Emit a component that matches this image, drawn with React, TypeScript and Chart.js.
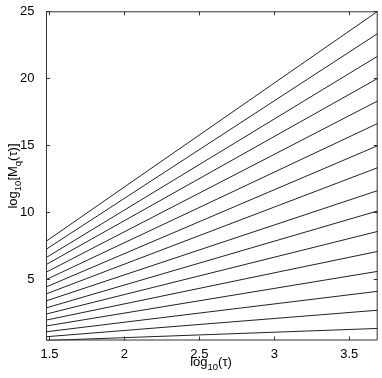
import React, { useEffect, useRef } from "react";
import { Chart, registerables } from "chart.js";

Chart.register(...registerables);

// log10(tau) range of every curve
const tauStart = 1.477;
const tauEnd = 3.69;

// log10[M_q(tau)] at the first and last tau, one entry per q (top curve first)
const startValues = [7.83, 7.23, 6.61, 6.09, 5.52, 4.97, 4.42, 3.9, 3.38, 2.86, 2.4, 1.95, 1.51, 1.08, 0.71, 0.43];
const endValues = [25.0, 23.34, 21.65, 19.99, 18.31, 16.63, 14.97, 13.33, 11.62, 10.1, 8.57, 7.08, 5.59, 4.1, 2.69, 1.33];

const xTicks = [1.5, 2, 2.5, 3, 3.5];
const yTicks = [5, 10, 15, 20, 25];

const yMin = 0.43;
const yMax = 25;

const FONT = "'Liberation Sans', Arial, Helvetica, sans-serif";

const framePlugin = {
  id: "matlabFrame",
  afterDraw(chart: any) {
    const ctx = chart.ctx;
    const { left, right, top, bottom } = chart.chartArea;
    const xs = chart.scales.x;
    const ys = chart.scales.y;
    ctx.save();
    ctx.strokeStyle = "#333";
    ctx.lineWidth = 1;
    ctx.beginPath();
    ctx.rect(left + 0.5, top + 0.5, right - left - 1, bottom - top - 1);
    ctx.stroke();
    const tl = 4;
    ctx.beginPath();
    xTicks.forEach((v) => {
      const px = Math.round(xs.getPixelForValue(v)) + 0.5;
      ctx.moveTo(px, bottom);
      ctx.lineTo(px, bottom - tl);
      ctx.moveTo(px, top);
      ctx.lineTo(px, top + tl);
    });
    yTicks.forEach((v) => {
      const py = Math.round(ys.getPixelForValue(v)) + 0.5;
      ctx.moveTo(left, py);
      ctx.lineTo(left + tl, py);
      ctx.moveTo(right, py);
      ctx.lineTo(right - tl, py);
    });
    ctx.stroke();

    // axis titles with subscripts
    const big = `13px ${FONT}`;
    const small = `9.5px ${FONT}`;
    const drawParts = (parts: { t: string; sub: boolean }[], cx: number, baseY: number) => {
      let total = 0;
      parts.forEach((p) => {
        ctx.font = p.sub ? small : big;
        total += ctx.measureText(p.t).width;
      });
      let x = cx - total / 2;
      ctx.textAlign = "left";
      ctx.textBaseline = "alphabetic";
      parts.forEach((p) => {
        ctx.font = p.sub ? small : big;
        ctx.fillText(p.t, x, baseY + (p.sub ? 4 : 0));
        x += ctx.measureText(p.t).width;
      });
    };
    ctx.fillStyle = "#000";
    drawParts(
      [
        { t: "log", sub: false },
        { t: "10", sub: true },
        { t: "(τ)", sub: false },
      ],
      211,
      366
    );
    ctx.save();
    ctx.translate(17, 176);
    ctx.rotate(-Math.PI / 2);
    drawParts(
      [
        { t: "log", sub: false },
        { t: "10", sub: true },
        { t: "[M", sub: false },
        { t: "q", sub: true },
        { t: "(τ)]", sub: false },
      ],
      0,
      0
    );
    ctx.restore();
    ctx.restore();
  },
};

export default function App() {
  const ref = useRef<HTMLCanvasElement | null>(null);
  useEffect(() => {
    if (!ref.current) return;
    const datasets = startValues.map((s, i) => ({
      label: `q${i}`,
      data: [
        { x: tauStart, y: s },
        { x: tauEnd, y: endValues[i] },
      ],
      borderColor: "#222",
      borderWidth: 1,
      pointRadius: 0,
      fill: false,
      tension: 0,
    }));
    const chart = new Chart(ref.current, {
      type: "line",
      data: { datasets },
      plugins: [framePlugin],
      options: {
        animation: false,
        responsive: false,
        maintainAspectRatio: false,
        layout: { padding: { top: 10, right: 4.3, left: 0, bottom: 0 } },
        plugins: { legend: { display: false }, tooltip: { enabled: false } },
        scales: {
          x: {
            type: "linear",
            min: tauStart,
            max: tauEnd,
            afterBuildTicks: (s: any) => {
              s.ticks = xTicks.map((v) => ({ value: v }));
            },
            afterFit: (s: any) => {
              s.height = 37.5;
            },
            grid: { display: false },
            border: { display: false },
            ticks: {
              color: "#000",
              font: { family: FONT, size: 13 },
              padding: -2,
              maxRotation: 0,
              autoSkip: false,
              callback: (v: any) => String(v),
            },
          },
          y: {
            type: "linear",
            min: yMin,
            max: yMax,
            afterBuildTicks: (s: any) => {
              s.ticks = yTicks.map((v) => ({ value: v }));
            },
            afterFit: (s: any) => {
              s.width = 46;
            },
            grid: { display: false },
            border: { display: false },
            ticks: {
              color: "#000",
              font: { family: FONT, size: 13 },
              padding: 3.5,
              autoSkip: false,
              callback: (v: any) => String(v),
            },
          },
        },
      },
    });
    return () => chart.destroy();
  }, []);
  return (
    <div style={{ position: "absolute", left: 0, top: 0, width: 382, height: 378, background: "#fff" }}>
      <canvas ref={ref} width={382} height={378} style={{ width: 382, height: 378 }} />
    </div>
  );
}
